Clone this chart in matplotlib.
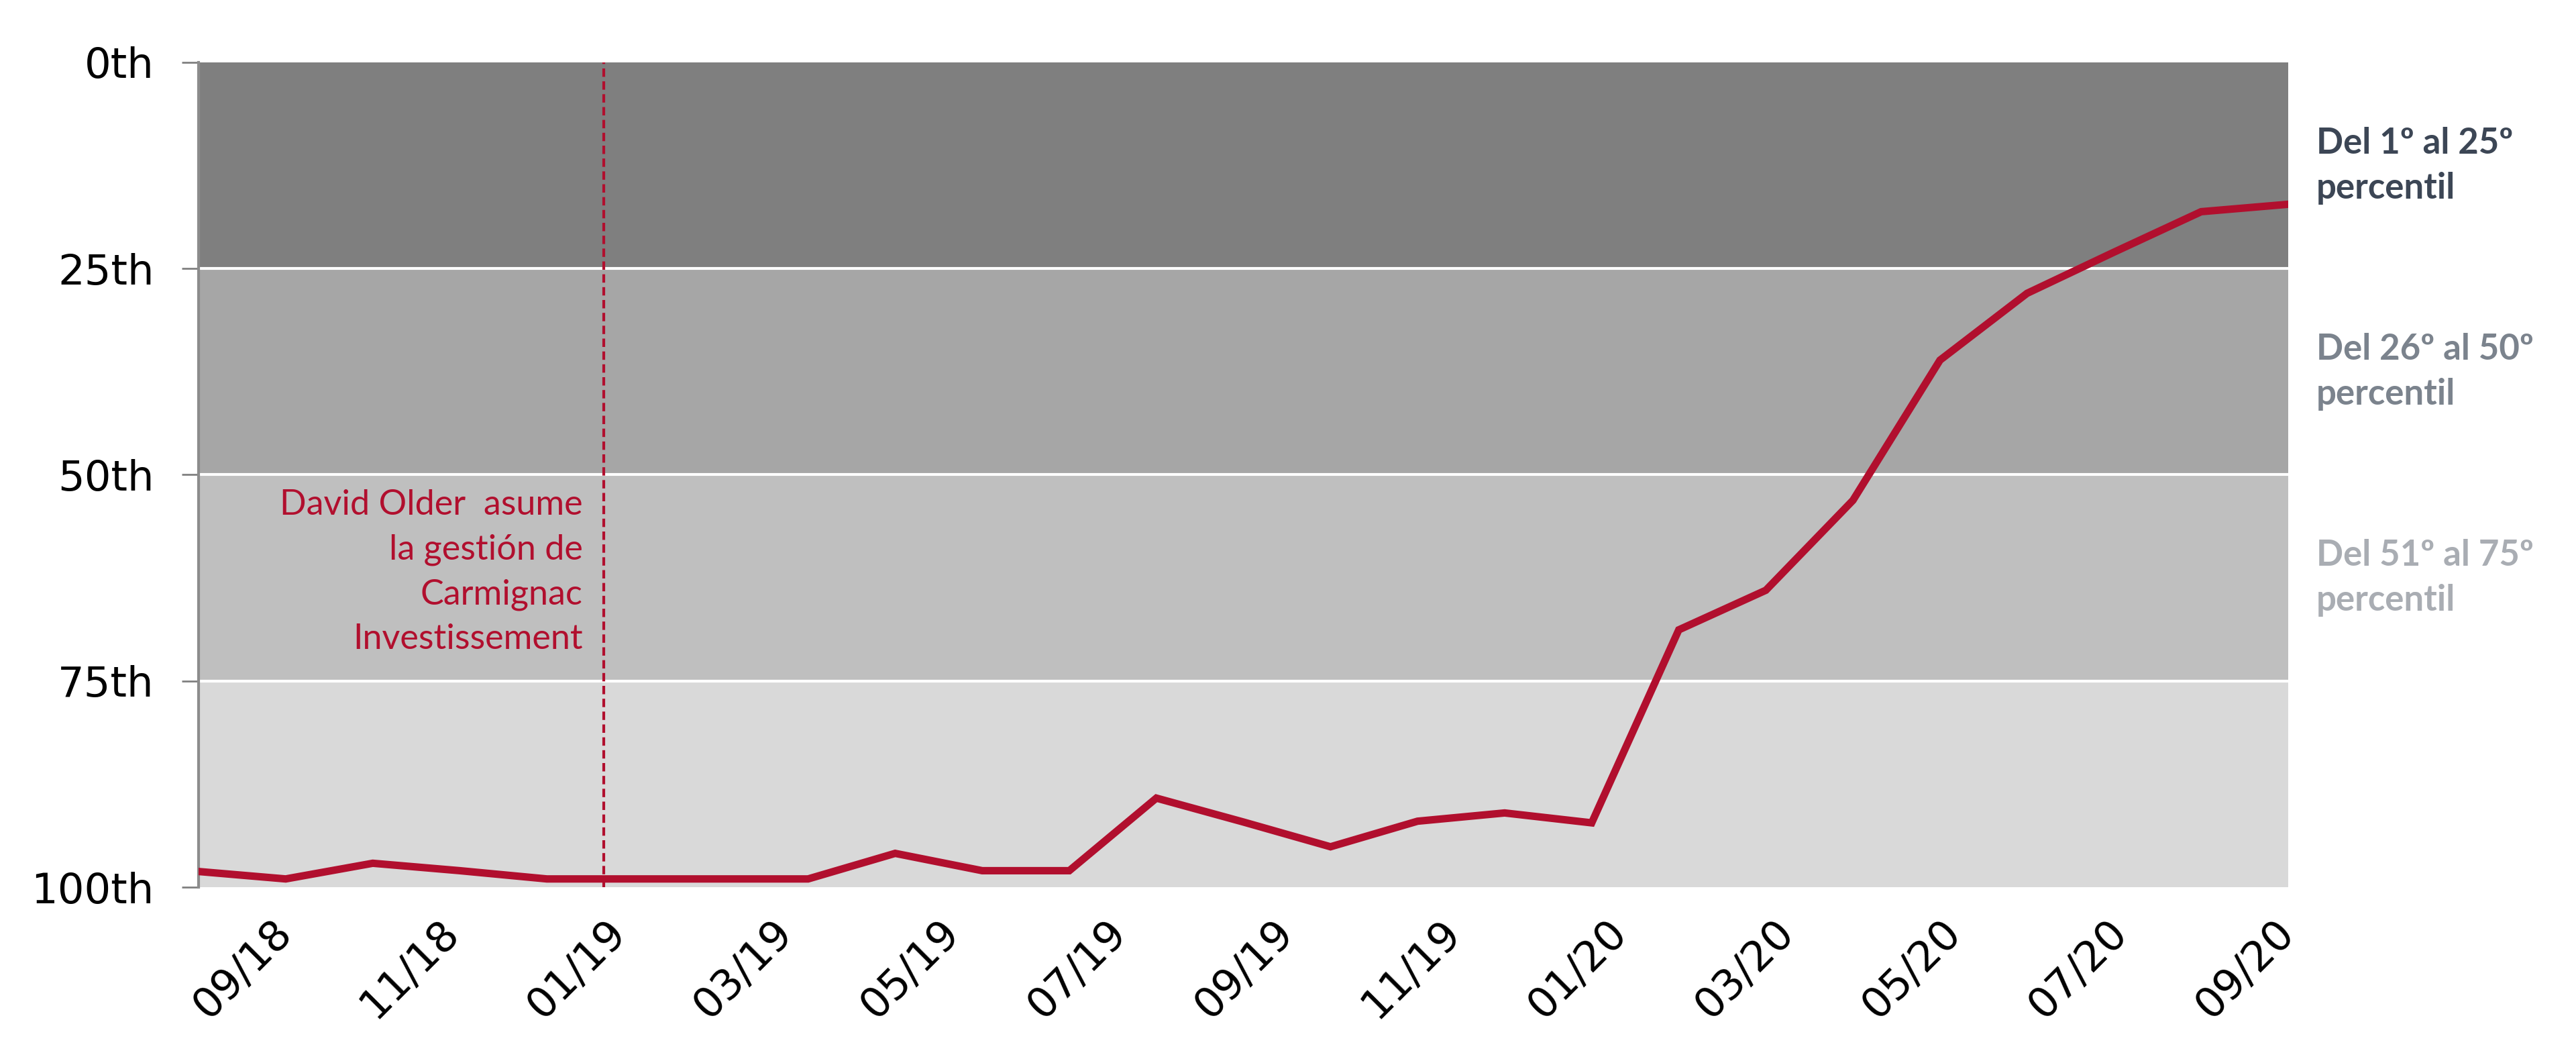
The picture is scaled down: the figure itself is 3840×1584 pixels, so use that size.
import numpy as np
import matplotlib.pyplot as plt
import matplotlib.transforms as mtransforms

# percentil del fondo (0 = mejor, 100 = peor), datos mensuales 08/18 - 08/20
percentil = [98.1, 99.0, 97.1, 98.0, 99.0, 99.0, 99.0, 99.0, 95.9, 98.0,
             98.0, 89.2, 92.1, 95.1, 92.0, 91.0, 92.2, 68.8, 64.0, 53.1,
             36.1, 28.0, 23.0, 18.1, 17.2]

etiquetas_x = ['09/18', '11/18', '01/19', '03/19', '05/19', '07/19', '09/19',
               '11/19', '01/20', '03/20', '05/20', '07/20', '09/20']

bandas = [0, 25, 50, 75, 100]
etiquetas_y = ['0th', '25th', '50th', '75th', '100th']
colores_banda = ['#7f7f7f', '#a6a6a6', '#bfbfbf', '#d9d9d9']

textos_banda = ['Del 1º al 25º\npercentil',
                'Del 26º al 50º\npercentil',
                'Del 51º al 75º\npercentil']
colores_texto_banda = ['#3c4655', '#7b838d', '#a9adb3']

texto_evento = 'David Older  asume\nla gestión de\nCarmignac\nInvestissement'
evento_x = 4.65  # cambio de gestor (posición en el eje)

rojo = '#b10f2e'

fig = plt.figure(figsize=(38.4, 15.84), dpi=100)
ax = fig.add_axes([0.0771, 0.1654, 0.8112, 0.7759])

x = np.arange(len(percentil))

# bandas de cuartiles
for lo, hi, c in zip(bandas[:-1], bandas[1:], colores_banda):
    ax.axhspan(lo, hi, color=c, lw=0, zorder=0)
for b in bandas[1:-1]:
    ax.axhline(b, color='white', lw=3, zorder=1)

# línea del fondo
ax.plot(x, percentil, color=rojo, lw=8, solid_joinstyle='miter', zorder=3)

# cambio de gestor
ax.axvline(evento_x, color=rojo, lw=3, ls=(0, (3, 1.6)), zorder=2)
ax.text(evento_x - 0.24, 61.8, texto_evento, ha='right', va='center',
        color=rojo, fontsize=37.5, family='Lato', linespacing=1.51, zorder=4)

# textos de las bandas a la derecha
trans = mtransforms.blended_transform_factory(ax.transAxes, ax.transData)
for lo, hi, t, c in zip(bandas[:-2], bandas[1:-1], textos_banda, colores_texto_banda):
    ax.text(1.0135, (lo + hi) / 2, t, ha='left', va='center', color=c,
            fontsize=38, fontweight='bold', family='Lato', linespacing=1.45,
            transform=trans, clip_on=False)

ax.set_xlim(0, len(percentil) - 1)
ax.set_ylim(100, 0)

ax.set_yticks(bandas)
ax.set_yticklabels(etiquetas_y)
ax.set_xticks(np.linspace(1, len(percentil) - 1, len(etiquetas_x)))
ax.set_xticklabels(etiquetas_x, rotation=45, ha='right', va='center',
                   rotation_mode='anchor')

ax.tick_params(axis='x', length=0, pad=42, labelsize=45)
ax.tick_params(axis='y', length=18, width=2, color='#808080', pad=30, labelsize=45)

for s in ['top', 'right', 'bottom']:
    ax.spines[s].set_visible(False)
ax.spines['left'].set_color('#8c8c8c')
ax.spines['left'].set_linewidth(3)

fig.savefig('out.png', dpi=100)
